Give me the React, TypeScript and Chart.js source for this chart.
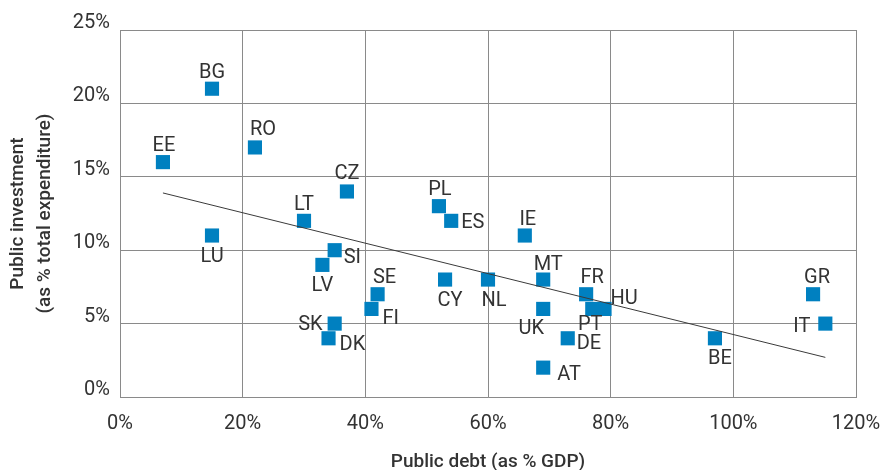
import React, { useEffect, useRef } from 'react';
import { Chart, registerables } from 'chart.js';

Chart.register(...registerables);

const COUNTRIES = ['BG', 'EE', 'RO', 'CZ', 'LT', 'LU', 'SI', 'LV', 'SE', 'FI', 'SK', 'DK', 'PL', 'ES', 'IE', 'CY', 'NL', 'MT', 'UK', 'AT', 'DE', 'FR', 'PT', 'HU', 'BE', 'GR', 'IT'];
const PUBLIC_DEBT = [15, 7, 22, 37, 30, 15, 35, 33, 42, 41, 35, 34, 52, 54, 66, 53, 60, 69, 69, 69, 73, 76, 77, 79, 97, 113, 115];
const PUBLIC_INVESTMENT = [21, 16, 17, 14, 12, 11, 10, 9, 7, 6, 5, 4, 13, 12, 11, 8, 8, 8, 6, 2, 4, 7, 6, 6, 4, 7, 5];

const TREND_DEBT = [7, 115];
const TREND_INVESTMENT = [13.9, 2.7];

const X_MIN = 0, X_MAX = 120, X_STEP = 20;
const Y_MIN = 0, Y_MAX = 25, Y_STEP = 5;

const X_TITLE = 'Public debt (as % GDP)';
const Y_TITLE = ['Public investment', '(as % total expenditure)'];

// label placement: [dx, dy, align] relative to the marker centre
const LABEL_PLACEMENT: Record<string, [number, number, CanvasTextAlign]> = {
  BG: [0, -18, 'center'],
  EE: [1, -18, 'center'],
  RO: [8, -19, 'center'],
  CZ: [0, -19, 'center'],
  LT: [0, -18, 'center'],
  LU: [0, 19, 'center'],
  SI: [9, 6, 'left'],
  LV: [0, 19, 'center'],
  SE: [7, -18, 'center'],
  FI: [11, 8, 'left'],
  SK: [-12, -1, 'right'],
  DK: [11, 5, 'left'],
  PL: [1, -18, 'center'],
  ES: [10, 0, 'left'],
  IE: [3, -18, 'center'],
  CY: [5, 19, 'center'],
  NL: [6, 19, 'center'],
  MT: [5, -17, 'center'],
  UK: [-12, 18, 'center'],
  AT: [14, 5, 'left'],
  DE: [9, 4, 'left'],
  FR: [6, -18, 'center'],
  PT: [-2, 14, 'center'],
  HU: [6, -12, 'left'],
  BE: [5, 19, 'center'],
  GR: [4, -18, 'center'],
  IT: [-15, 1, 'right'],
};
const LABEL_BASELINE_SHIFT = 2;

const TEXT = '#333333';
const GRID = '#8a8a8a';
const MARKER = '#0080c0';
const FONT = 'Roboto';

export default function App() {
  const ref = useRef<HTMLCanvasElement>(null);

  useEffect(() => {
    document.body.style.margin = '0';
    const canvas = ref.current;
    if (!canvas) return;

    const labelPlugin = {
      id: 'pointLabels',
      afterDatasetsDraw(chart: any) {
        const meta = chart.getDatasetMeta(0);
        const ctx = chart.ctx as CanvasRenderingContext2D;
        ctx.save();
        ctx.font = `400 20px ${FONT}`;
        ctx.fillStyle = TEXT;
        ctx.textBaseline = 'middle';
        meta.data.forEach((el: any, i: number) => {
          const code = COUNTRIES[i];
          const [dx, dy, align] = LABEL_PLACEMENT[code] || [0, -18, 'center'];
          ctx.textAlign = align;
          ctx.fillText(code, el.x + dx, el.y + dy + LABEL_BASELINE_SHIFT);
        });
        ctx.restore();
      },
    };

    const chart = new Chart(canvas, {
      type: 'scatter',
      data: {
        datasets: [
          {
            label: 'Countries',
            data: PUBLIC_DEBT.map((x, i) => ({ x, y: PUBLIC_INVESTMENT[i] })),
            backgroundColor: MARKER,
            borderWidth: 0,
            pointStyle: 'rect',
            pointRadius: 10,
            pointHoverRadius: 10,
            order: 1,
          },
          {
            label: 'Trend',
            type: 'line',
            data: TREND_DEBT.map((x, i) => ({ x, y: TREND_INVESTMENT[i] })),
            borderColor: '#3a3a3a',
            borderWidth: 1,
            pointRadius: 0,
            showLine: true,
            fill: false,
            order: 0,
          } as any,
        ],
      },
      options: {
        responsive: false,
        animation: false,
        devicePixelRatio: 1,
        layout: { padding: { top: 30, right: 25, bottom: 0, left: 0 } },
        plugins: {
          legend: { display: false },
          tooltip: { enabled: false },
        },
        scales: {
          x: {
            type: 'linear',
            min: X_MIN,
            max: X_MAX,
            afterFit: (scale: any) => {
              scale.height = 73;
              scale.paddingRight = 0;
              scale.paddingLeft = 0;
            },
            grid: { color: GRID, lineWidth: 1, drawTicks: false },
            border: { color: GRID, width: 1 },
            ticks: {
              stepSize: X_STEP,
              padding: 15,
              color: TEXT,
              font: { family: FONT, size: 20 },
              callback: (v: any) => `${v}%`,
            },
            title: {
              display: true,
              text: X_TITLE,
              color: TEXT,
              font: { family: FONT, size: 19, weight: '500', lineHeight: '16px' },
              padding: { top: 0, bottom: 0 },
            },
          },
          y: {
            type: 'linear',
            min: Y_MIN,
            max: Y_MAX,
            afterFit: (scale: any) => {
              scale.width = 120;
              scale.paddingTop = 0;
              scale.paddingBottom = 0;
            },
            grid: { color: GRID, lineWidth: 1, drawTicks: false },
            border: { color: GRID, width: 1 },
            ticks: {
              stepSize: Y_STEP,
              padding: 10,
              labelOffset: -7,
              color: TEXT,
              font: { family: FONT, size: 20 },
              callback: (v: any) => `${v}%`,
            },
            title: {
              display: true,
              text: Y_TITLE,
              color: TEXT,
              font: { family: FONT, size: 19, weight: '500', lineHeight: '27px' },
              padding: { top: 4.5, bottom: 0 },
            },
          },
        },
      },
      plugins: [labelPlugin],
    });

    return () => chart.destroy();
  }, []);

  return (
    <div style={{ position: 'absolute', left: 0, top: 0, width: 881, height: 470 }}>
      <canvas ref={ref} width={881} height={470} style={{ width: 881, height: 470 }} />
    </div>
  );
}
